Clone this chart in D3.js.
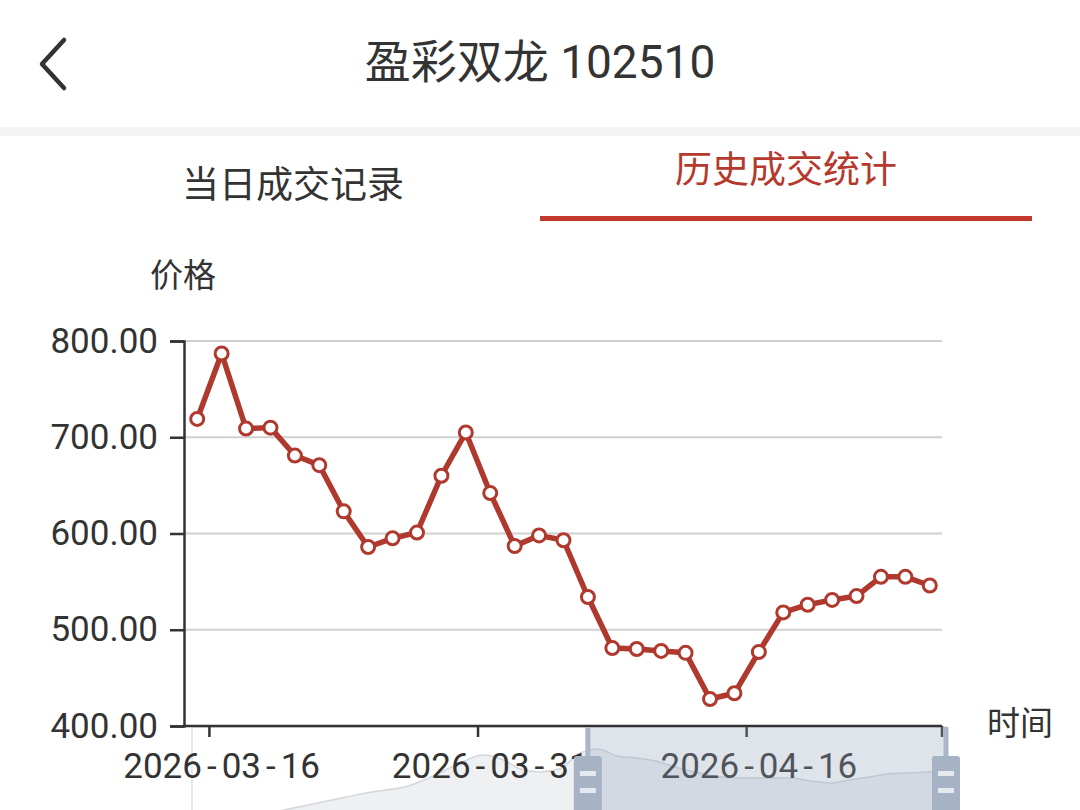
<!DOCTYPE html>
<html><head><meta charset="utf-8">
<script src="https://cdn.jsdelivr.net/npm/d3@7"></script>
<style>html,body{margin:0;padding:0;background:#fff;} svg{display:block;}</style>
</head><body><svg id="c" width="1080" height="810"></svg>
<script>
const title = "盈彩双龙 102510";
const tabs = ["当日成交记录", "历史成交统计"];
const yAxisName = "价格";
const xAxisName = "时间";
const dates = ["2026-03-13","2026-03-16","2026-03-17","2026-03-18","2026-03-19","2026-03-20",
  "2026-03-23","2026-03-24","2026-03-25","2026-03-26","2026-03-27","2026-03-30","2026-03-31",
  "2026-04-01","2026-04-02","2026-04-03","2026-04-07","2026-04-08","2026-04-09","2026-04-10",
  "2026-04-13","2026-04-14","2026-04-15","2026-04-16","2026-04-17","2026-04-20","2026-04-21",
  "2026-04-22","2026-04-23","2026-04-24","2026-04-27"];
const prices = [719, 787, 709, 710, 681, 671, 623, 586, 595, 601, 660, 705, 642, 587, 598,
  593, 534, 481, 480, 478, 476, 428, 434, 477, 518, 526, 531, 535, 555, 555, 546];
const yTicks = [400, 500, 600, 700, 800];
const xTickLabels = ["2026-03-16", "2026-03-31", "2026-04-16"];
const shadowValues = [30, 70, 100, 130, 150, 190, 230, 270, 310, 350, 380, 410, 480, 570, 660,
  730, 690, 590, 560, 590, 740, 790, 720, 700, 670, 610, 560, 520, 500, 500, 500, 500, 470,
  450, 480, 510, 540, 550, 560, 580];
const zoomWindow = [0.525, 1.0];

const F = "Roboto, 'Noto Sans CJK SC', sans-serif";
const RED = "#b0392e";
const svg = d3.select("#c");

// header
svg.append("rect").attr("width", 1080).attr("height", 810).attr("fill", "#fff");
svg.append("path").attr("d", "M64,40 L42,64 L64,88").attr("fill", "none")
  .attr("stroke", "#333").attr("stroke-width", 4.5).attr("stroke-linecap", "round").attr("stroke-linejoin", "round");
svg.append("text").attr("x", 540).attr("y", 62).attr("text-anchor", "middle")
  .attr("dominant-baseline", "central").attr("font-family", F).attr("font-size", 46)
  .attr("fill", "#333").text(title);
svg.append("rect").attr("x", 0).attr("y", 127).attr("width", 1080).attr("height", 9).attr("fill", "#f4f4f4");
svg.append("text").attr("x", 293).attr("y", 185).attr("text-anchor", "middle")
  .attr("dominant-baseline", "central").attr("font-family", F).attr("font-size", 37)
  .attr("fill", "#333").text(tabs[0]);
svg.append("text").attr("x", 786).attr("y", 170).attr("text-anchor", "middle")
  .attr("dominant-baseline", "central").attr("font-family", F).attr("font-size", 37)
  .attr("fill", "#b5392c").text(tabs[1]);
svg.append("rect").attr("x", 540).attr("y", 216).attr("width", 492).attr("height", 5).attr("fill", "#c0392b");

// scales
const x = d3.scaleBand().domain(dates).range([185, 942]).padding(0);
const bw = x.bandwidth();
const cx = d => x(d) + bw / 2;
const y = d3.scaleLinear().domain([400, 800]).range([726, 341]);

// grid
svg.append("g").selectAll("line").data(yTicks.filter(t => t > 400)).join("line")
  .attr("x1", 185).attr("x2", 942).attr("y1", d => y(d)).attr("y2", d => y(d))
  .attr("stroke", "#d0d0d0").attr("stroke-width", 2);

// y axis
const gy = svg.append("g").attr("transform", "translate(184,0)")
  .call(d3.axisLeft(y).tickValues(yTicks).tickFormat(d3.format(".2f")).tickSize(14).tickPadding(12));
gy.select(".domain").attr("stroke", "#333").attr("stroke-width", 2.5);
gy.selectAll(".tick line").attr("stroke", "#333").attr("stroke-width", 2.5);
gy.selectAll(".tick text").attr("font-family", F).attr("font-size", 35).attr("fill", "#333");

svg.append("text").attr("x", 183).attr("y", 275).attr("text-anchor", "middle")
  .attr("dominant-baseline", "central").attr("font-family", F).attr("font-size", 33)
  .attr("fill", "#333").text(yAxisName);

// series
svg.append("path").datum(prices)
  .attr("d", d3.line().x((d, i) => cx(dates[i])).y(d => y(d)))
  .attr("fill", "none").attr("stroke", RED).attr("stroke-width", 5.5).attr("stroke-linejoin", "round");
svg.append("g").selectAll("circle").data(prices).join("circle")
  .attr("cx", (d, i) => cx(dates[i])).attr("cy", d => y(d)).attr("r", 6.5)
  .attr("fill", "#fff").attr("stroke", RED).attr("stroke-width", 3);

// data zoom slider background + shadow
const sx0 = 192, sx1 = 946, sTop = 727, sBot = 860;
const sx = d3.scaleLinear().domain([0, shadowValues.length - 1]).range([sx0, sx1]);
const sy = d3.scaleLinear().domain([0, 800]).range([828, 748]);
const sg = svg.append("g");
sg.append("rect").attr("x", sx0).attr("y", sTop).attr("width", sx1 - sx0).attr("height", sBot - sTop)
  .attr("fill", "none").attr("stroke", "#dde1e6").attr("stroke-width", 1.5);
sg.append("path").datum(shadowValues)
  .attr("d", d3.area().x((d, i) => sx(i)).y0(sBot).y1(d => sy(d)).curve(d3.curveMonotoneX))
  .attr("fill", "#eef0f2");
sg.append("path").datum(shadowValues)
  .attr("d", d3.line().x((d, i) => sx(i)).y(d => sy(d)).curve(d3.curveMonotoneX))
  .attr("fill", "none").attr("stroke", "#d3d6da").attr("stroke-width", 1.5);

// x axis (labels above the shadow)
const gx = svg.append("g").attr("transform", "translate(0,726)")
  .call(d3.axisBottom(x).tickValues(xTickLabels).tickSize(11).tickPadding(16).tickSizeOuter(0));
gx.select(".domain").attr("stroke", "#333").attr("stroke-width", 2.5).attr("d", "M183,0H942");
gx.selectAll(".tick line").attr("stroke", "#333").attr("stroke-width", 2.5).attr("x1", -bw / 2).attr("x2", -bw / 2);
gx.selectAll(".tick text").attr("font-family", F).attr("font-size", 35).attr("fill", "#333")
  .each(function (d) {
    const t = d3.select(this);
    t.text(null);
    const parts = d.split("-");
    parts.forEach((p, i) => {
      if (i > 0) t.append("tspan").attr("dx", 5).text("-");
      t.append("tspan").attr("dx", i > 0 ? 5 : 0).text(p);
    });
  });
gx.append("line").attr("x1", 942).attr("x2", 942).attr("y1", 0).attr("y2", 11)
  .attr("stroke", "#333").attr("stroke-width", 2.5);

svg.append("text").attr("x", 1020).attr("y", 723).attr("text-anchor", "middle")
  .attr("dominant-baseline", "central").attr("font-family", F).attr("font-size", 33)
  .attr("fill", "#333").text(xAxisName);

// selected window + handles
const wx0 = sx0 + (sx1 - sx0) * zoomWindow[0], wx1 = sx0 + (sx1 - sx0) * zoomWindow[1];
svg.append("rect").attr("x", wx0).attr("y", sTop).attr("width", wx1 - wx0).attr("height", sBot - sTop)
  .attr("fill", "rgba(150,165,190,0.30)");
[wx0, wx1].forEach(hx => {
  const h = svg.append("g").attr("transform", `translate(${hx},0)`);
  h.append("rect").attr("x", -2.5).attr("y", sTop).attr("width", 5).attr("height", 40).attr("fill", "#aab6c7");
  h.append("rect").attr("x", -14).attr("y", 756).attr("width", 28).attr("height", 80).attr("rx", 3)
    .attr("fill", "#a6b3c5");
  h.append("rect").attr("x", -8).attr("y", 771).attr("width", 16).attr("height", 5).attr("fill", "#e4e9f0");
  h.append("rect").attr("x", -8).attr("y", 788).attr("width", 16).attr("height", 5).attr("fill", "#e4e9f0");
});
</script></body></html>
